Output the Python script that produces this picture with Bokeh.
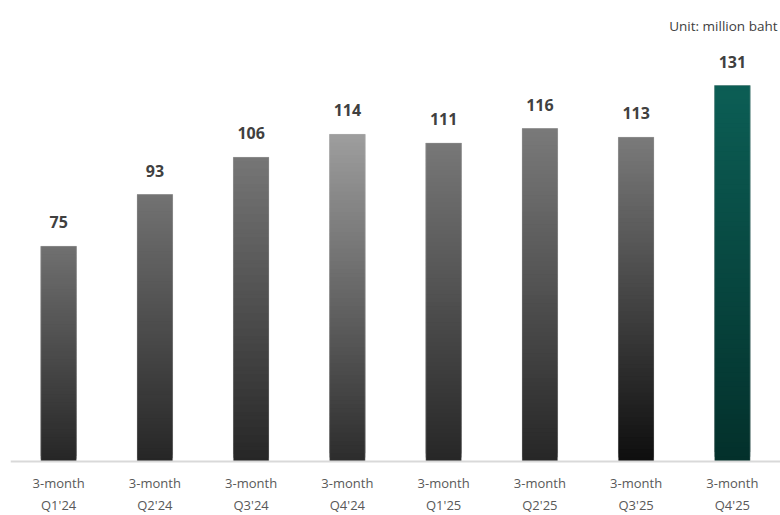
from bokeh.plotting import figure
from bokeh.models import ColumnDataSource, Range1d, Span, Label
from bokeh.core.properties import value
from bokeh.embed import file_html
from bokeh.resources import INLINE

# ---- data ----
periods = ["Q1'24", "Q2'24", "Q3'24", "Q4'24", "Q1'25", "Q2'25", "Q3'25", "Q4'25"]
prefix = "3-month"
revenue = [75, 93, 106, 114, 111, 116, 113, 131]
unit_text = "Unit: million baht"

# ---- styles ----
top_colors = ["#707070", "#727272", "#767676", "#9e9e9e", "#787878", "#7a7a7a", "#7a7a7a", "#0c5e55"]
bottom_colors = ["#262626", "#262626", "#262626", "#2c2c2c", "#262626", "#262626", "#0e0e0e", "#03302b"]
N_STEPS = 80
BAR_W = 0.37


def hex_to_rgb(h):
    h = h.lstrip("#")
    return tuple(int(h[i:i + 2], 16) for i in (0, 2, 4))


def mix(c1, c2, t):
    a, b = hex_to_rgb(c1), hex_to_rgb(c2)
    return "#%02x%02x%02x" % tuple(int(round(a[k] + (b[k] - a[k]) * t)) for k in range(3))


# gradient: overlapping slices, drawn bottom to top
xs, bots, tops, cols = [], [], [], []
for i, v in enumerate(revenue):
    for k in range(N_STEPS):
        xs.append(i)
        bots.append(v * k / N_STEPS)
        tops.append(v * min(k + 3, N_STEPS) / N_STEPS)
        cols.append(mix(bottom_colors[i], top_colors[i], (k + 0.5) / N_STEPS))
seg = ColumnDataSource(dict(x=xs, bottom=bots, top=tops, color=cols))

idx = list(range(len(revenue)))
lab = ColumnDataSource(dict(
    x=idx,
    y=revenue,
    txt=[str(v) for v in revenue],
    zero=[0] * len(revenue),
    pre=[prefix] * len(revenue),
    per=periods,
))

px_per_unit = 2.87
p = figure(width=780, height=515, output_backend="svg", toolbar_location=None,
           x_axis_location=None, y_axis_location=None,
           x_range=Range1d(-0.5, 7.5),
           y_range=Range1d(-54 / px_per_unit, 461 / px_per_unit),
           min_border=0, min_border_left=10)
p.outline_line_color = None
p.xgrid.visible = False
p.ygrid.visible = False
p.background_fill_color = "white"
p.border_fill_color = "white"

p.vbar(x="x", width=BAR_W, bottom="bottom", top="top", source=seg,
       fill_color="color", line_color=None)
# subtle outline
p.vbar(x="x", width=BAR_W, top="y", bottom="zero", source=lab,
       fill_color=None, line_color="#bdbdbd", line_alpha=0.35, line_width=1)

p.add_layout(Span(location=0, dimension="width", line_color="#d9d9d9", line_width=2))

p.text(x="x", y="y", text="txt", source=lab, text_align="center", text_baseline="middle",
       y_offset=-24, text_font=value("Open Sans"), text_font_style="bold",
       text_font_size="16px", text_color="#404040")
p.text(x="x", y="zero", text="pre", source=lab, text_align="center", text_baseline="middle",
       y_offset=21, text_font=value("Open Sans"), text_font_size="13px", text_color="#595959")
p.text(x="x", y="zero", text="per", source=lab, text_align="center", text_baseline="middle",
       y_offset=43, text_font=value("Open Sans"), text_font_size="13px", text_color="#595959")

p.add_layout(Label(x=7.5, y=(461 - 25) / px_per_unit, x_offset=-3, text=unit_text,
                   text_align="right", text_baseline="middle",
                   text_font="Open Sans", text_font_size="13.5px", text_color="#404040"))

open("out.html", "w").write(file_html(p, INLINE))
